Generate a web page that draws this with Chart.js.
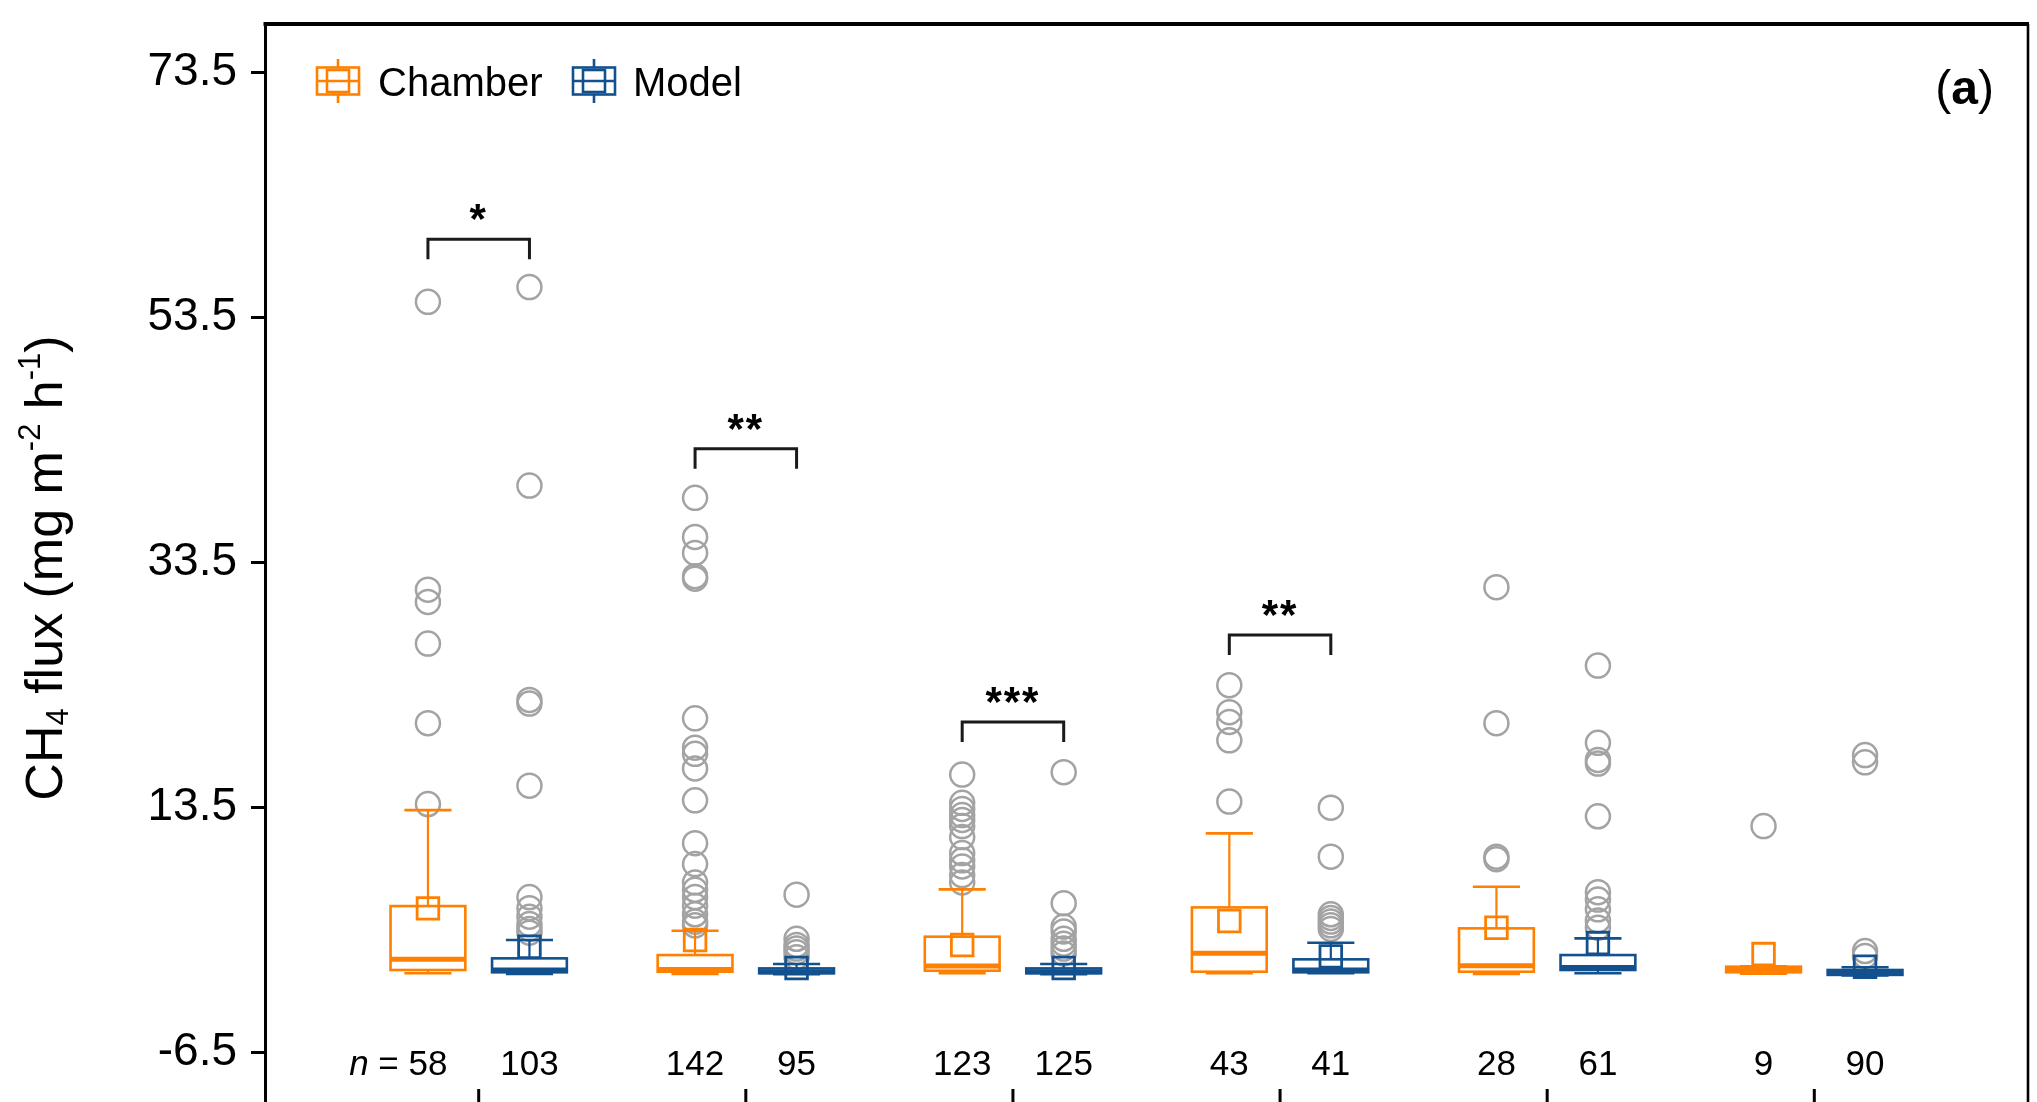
<!DOCTYPE html>
<html>
<head>
<meta charset="utf-8">
<script src="https://cdn.jsdelivr.net/npm/chart.js@4.4.1/dist/chart.umd.min.js"></script>
<style>
  html, body { margin: 0; padding: 0; background: #fff; overflow: hidden; }
</style>
</head>
<body>
<canvas id="chart" width="2037" height="1120"></canvas>
<script>
// Sites along the x axis (1..6), chamber vs. model flux per site
const sites = [1, 2, 3, 4, 5, 6];
const yTickValues = [-6.5, 13.5, 33.5, 53.5, 73.5];

const chamberN = [58, 142, 123, 43, 28, 9];
const modelN = [103, 95, 125, 41, 61, 90];

// box statistics (whisker low, Q1, median, Q3, whisker high, mean)
const chamberLow  = [-0.02, -0.08, -0.02, -0.02, -0.08, -0.05];
const chamberQ1   = [0.25, 0.11, 0.19, 0.11, 0.11, 0.06];
const chamberMed  = [1.12, 0.30, 0.57, 1.61, 0.60, 0.30];
const chamberQ3   = [5.47, 1.47, 2.97, 5.36, 3.65, 0.52];
const chamberHigh = [13.3, 3.46, 6.83, 11.4, 7.05, 0.55];
const chamberMean = [5.28, 2.70, 2.29, 4.25, 3.70, 1.55];

const modelLow  = [-0.08, -0.10, -0.10, -0.02, -0.02, -0.20];
const modelQ1   = [0.06, -0.02, -0.02, 0.06, 0.25, -0.15];
const modelMed  = [0.25, 0.10, 0.10, 0.25, 0.45, 0.05];
const modelQ3   = [1.20, 0.38, 0.38, 1.12, 1.47, 0.25];
const modelHigh = [2.70, 0.74, 0.74, 2.48, 2.83, 0.47];
const modelMean = [2.15, 0.41, 0.41, 1.36, 2.45, 0.52];

const chamberOutliers = [
  [54.8, 31.3, 30.3, 26.9, 20.4, 13.8],
  [38.8, 35.6, 34.3, 32.4, 32.2, 20.8, 18.4, 17.9, 16.7, 14.1, 10.6, 8.9, 7.4, 6.8, 6.2, 5.5, 4.8, 4.2, 3.9],
  [16.2, 13.9, 13.4, 12.9, 12.5, 12.0, 11.1, 9.8, 9.2, 8.7, 8.0, 7.4],
  [23.5, 21.3, 20.5, 19.0, 14.0],
  [31.5, 20.4, 9.5, 9.3],
  [12.0]
];
const modelOutliers = [
  [56.0, 39.8, 22.3, 22.0, 15.3, 6.2, 5.3, 4.6, 4.0, 3.6, 3.3],
  [6.4, 2.8, 2.3, 2.0, 1.7, 1.3],
  [16.4, 5.7, 3.8, 3.4, 2.8, 2.4, 2.0, 1.6],
  [13.5, 9.5, 4.8, 4.5, 4.2, 3.9, 3.6],
  [25.1, 18.8, 17.4, 17.1, 12.8, 6.6, 6.0, 5.2, 4.3, 3.7],
  [17.8, 17.2, 1.8, 1.4]
];

// significance brackets
const bracketSites = [1, 2, 3, 4];
const bracketLevel = [59.9, 42.8, 20.5, 27.6];
const bracketMarks = ['*', '**', '***', '**'];

const CHAMBER = '#ff8000';
const MODEL = '#12508e';
const OUTLIER = '#a3a3a3';
const FONT = "'Liberation Sans', Arial, Helvetica, sans-serif";
const pairOffset = 0.19;
const boxWidth = 0.28;

Chart.defaults.font.family = FONT;
Chart.defaults.color = '#000';

function stats(low, q1, med, q3, high) {
  return sites.map((s, i) => ({ low: low[i], q1: q1[i], med: med[i], q3: q3[i], high: high[i] }));
}
const chamberBoxes = stats(chamberLow, chamberQ1, chamberMed, chamberQ3, chamberHigh);
const modelBoxes = stats(modelLow, modelQ1, modelMed, modelQ3, modelHigh);

const outlierPoints = [];
sites.forEach((s, i) => {
  chamberOutliers[i].forEach(v => outlierPoints.push({ x: s - pairOffset, y: v }));
  modelOutliers[i].forEach(v => outlierPoints.push({ x: s + pairOffset, y: v }));
});

function drawBoxes(ctx, x, y, boxes, offset, color) {
  ctx.save();
  ctx.strokeStyle = color;
  boxes.forEach((b, i) => {
    const pos = sites[i] + offset;
    const cx = x.getPixelForValue(pos);
    const half = (x.getPixelForValue(pos + boxWidth / 2) - x.getPixelForValue(pos - boxWidth / 2)) / 2;
    const capHalf = half * 0.63;
    const yLow = y.getPixelForValue(b.low);
    const yQ1 = y.getPixelForValue(b.q1);
    const yMed = y.getPixelForValue(b.med);
    const yQ3 = y.getPixelForValue(b.q3);
    const yHigh = y.getPixelForValue(b.high);

    // whiskers
    ctx.lineWidth = 2.2;
    ctx.beginPath();
    ctx.moveTo(cx, yQ3); ctx.lineTo(cx, yHigh);
    ctx.moveTo(cx, yQ1); ctx.lineTo(cx, yLow);
    ctx.stroke();
    ctx.lineWidth = 2.6;
    ctx.beginPath();
    ctx.moveTo(cx - capHalf, yHigh); ctx.lineTo(cx + capHalf, yHigh);
    ctx.moveTo(cx - capHalf, yLow); ctx.lineTo(cx + capHalf, yLow);
    ctx.stroke();

    // box
    ctx.lineWidth = 2.6;
    ctx.strokeRect(cx - half, yQ3, 2 * half, yQ1 - yQ3);

    // median
    ctx.lineWidth = 5;
    ctx.beginPath();
    ctx.moveTo(cx - half, yMed); ctx.lineTo(cx + half, yMed);
    ctx.stroke();
  });
  ctx.restore();
}

function legendIcon(ctx, cx, cy, color) {
  ctx.save();
  ctx.strokeStyle = color;
  ctx.lineWidth = 2.6;
  ctx.strokeRect(cx - 21, cy - 13.5, 42, 27);
  ctx.strokeRect(cx - 11, cy - 11, 22, 22);
  ctx.beginPath();
  ctx.moveTo(cx - 21, cy); ctx.lineTo(cx + 21, cy);
  ctx.moveTo(cx, cy - 22); ctx.lineTo(cx, cy - 13.5);
  ctx.moveTo(cx, cy + 13.5); ctx.lineTo(cx, cy + 22);
  ctx.stroke();
  ctx.restore();
}

const decorPlugin = {
  id: 'decor',
  beforeDatasetDraw(chart, args) {
    // boxes go between the outlier circles and the mean squares
    if (args.index !== 1) return;
    const { ctx, scales: { x, y } } = chart;
    drawBoxes(ctx, x, y, chamberBoxes, -pairOffset, CHAMBER);
    drawBoxes(ctx, x, y, modelBoxes, pairOffset, MODEL);
  },
  afterDraw(chart) {
    const { ctx, chartArea: area, scales: { x, y } } = chart;
    ctx.save();

    // top and right frame
    ctx.strokeStyle = '#000';
    ctx.lineWidth = 4;
    ctx.beginPath();
    ctx.moveTo(area.left - 1.5, area.top); ctx.lineTo(area.right + 1, area.top);
    ctx.stroke();
    ctx.lineWidth = 2.6;
    ctx.beginPath();
    ctx.moveTo(area.right, area.top); ctx.lineTo(area.right, area.bottom);
    ctx.stroke();

    // inward x ticks at each site
    ctx.lineWidth = 3;
    ctx.beginPath();
    sites.forEach(s => {
      const px = x.getPixelForValue(s);
      ctx.moveTo(px, area.bottom); ctx.lineTo(px, area.bottom - 15);
    });
    ctx.stroke();

    // significance brackets
    ctx.strokeStyle = '#1a1a1a';
    ctx.fillStyle = '#000';
    ctx.lineWidth = 3;
    ctx.textAlign = 'center';
    ctx.textBaseline = 'alphabetic';
    bracketSites.forEach((s, i) => {
      const x1 = x.getPixelForValue(s - pairOffset);
      const x2 = x.getPixelForValue(s + pairOffset);
      const yb = y.getPixelForValue(bracketLevel[i]);
      ctx.beginPath();
      ctx.moveTo(x1, yb + 20); ctx.lineTo(x1, yb); ctx.lineTo(x2, yb); ctx.lineTo(x2, yb + 20);
      ctx.stroke();
      ctx.font = 'bold 42px ' + FONT;
      ctx.letterSpacing = '2px';
      ctx.fillText(bracketMarks[i], (x1 + x2) / 2, yb - 6);
      ctx.letterSpacing = '0px';
    });

    // sample sizes
    const nBase = 1075;
    ctx.font = '35px ' + FONT;
    ctx.textAlign = 'center';
    sites.forEach((s, i) => {
      const cxC = x.getPixelForValue(s - pairOffset);
      const cxM = x.getPixelForValue(s + pairOffset);
      const txt = String(chamberN[i]);
      ctx.fillText(txt, cxC, nBase);
      ctx.fillText(String(modelN[i]), cxM, nBase);
      if (i === 0) {
        const left = cxC - ctx.measureText(txt).width / 2;
        ctx.textAlign = 'right';
        ctx.fillText('= ', left, nBase);
        const eqW = ctx.measureText('= ').width;
        ctx.font = 'italic 35px ' + FONT;
        ctx.fillText('n ', left - eqW, nBase);
        ctx.font = '35px ' + FONT;
        ctx.textAlign = 'center';
      }
    });

    // legend
    ctx.font = '40px ' + FONT;
    ctx.textAlign = 'left';
    legendIcon(ctx, area.left + 73, 81, CHAMBER);
    ctx.fillText('Chamber', area.left + 113, 96);
    legendIcon(ctx, area.left + 329, 81, MODEL);
    ctx.fillText('Model', area.left + 368, 96);

    // panel letter
    const parts = [['(', '48px '], ['a', 'bold 48px '], [')', '48px ']];
    let px = area.right - 34;
    for (let k = parts.length - 1; k >= 0; k--) {
      ctx.font = parts[k][1] + FONT;
      px -= ctx.measureText(parts[k][0]).width;
    }
    parts.forEach(p => {
      ctx.font = p[1] + FONT;
      ctx.fillText(p[0], px, 104);
      px += ctx.measureText(p[0]).width;
    });

    // y axis title with sub/superscripts
    const size = 52;
    const title = [
      { t: 'CH' }, { t: '4', sub: true }, { t: ' flux (mg m' }, { t: '-2', sup: true },
      { t: ' h' }, { t: '-1', sup: true }, { t: ')' }
    ];
    const fontFor = p => ((p.sub || p.sup) ? Math.round(size * 0.6) : size) + 'px ' + FONT;
    let total = 0;
    title.forEach(p => { ctx.font = fontFor(p); total += ctx.measureText(p.t).width; });
    ctx.translate(62, (area.top + area.bottom) / 2 + 4);
    ctx.rotate(-Math.PI / 2);
    let tx = -total / 2;
    title.forEach(p => {
      ctx.font = fontFor(p);
      const dy = p.sub ? size * 0.12 : (p.sup ? -size * 0.42 : 0);
      ctx.fillText(p.t, tx, dy);
      tx += ctx.measureText(p.t).width;
    });
    ctx.restore();
  }
};

new Chart(document.getElementById('chart').getContext('2d'), {
  type: 'scatter',
  data: {
    datasets: [
      {
        label: 'Outliers',
        data: outlierPoints,
        pointStyle: 'circle',
        pointRadius: 12,
        borderWidth: 2.5,
        borderColor: OUTLIER,
        backgroundColor: 'rgba(0,0,0,0)',
        order: 1
      },
      {
        label: 'Chamber mean',
        data: sites.map((s, i) => ({ x: s - pairOffset, y: chamberMean[i] })),
        pointStyle: 'rect',
        pointRadius: 15.3,
        borderWidth: 2.8,
        borderColor: CHAMBER,
        backgroundColor: 'rgba(0,0,0,0)',
        order: 0
      },
      {
        label: 'Model mean',
        data: sites.map((s, i) => ({ x: s + pairOffset, y: modelMean[i] })),
        pointStyle: 'rect',
        pointRadius: 15.3,
        borderWidth: 2.8,
        borderColor: MODEL,
        backgroundColor: 'rgba(0,0,0,0)',
        order: 0
      }
    ]
  },
  options: {
    responsive: false,
    animation: false,
    events: [],
    layout: { autoPadding: false, padding: { left: 0, top: 24, right: 9, bottom: 0 } },
    plugins: {
      legend: { display: false },
      tooltip: { enabled: false }
    },
    scales: {
      x: {
        type: 'linear',
        min: 0.2,
        max: 6.8,
        ticks: { display: false },
        grid: { display: false },
        border: { display: true, color: '#000', width: 3 },
        afterFit(scale) {
          scale.height = 16;
          scale.paddingLeft = 0;
          scale.paddingRight = 0;
        }
      },
      y: {
        type: 'linear',
        min: -10.69,
        max: 77.48,
        afterBuildTicks(scale) { scale.ticks = yTickValues.map(v => ({ value: v })); },
        ticks: {
          font: { size: 46 },
          color: '#000',
          padding: 14,
          callback: v => v.toFixed(1)
        },
        grid: { drawOnChartArea: false, tickLength: 14, tickWidth: 3, color: '#000' },
        border: { display: true, color: '#000', width: 3 },
        afterFit(scale) {
          scale.width = 265;
          scale.paddingTop = 0;
          scale.paddingBottom = 0;
        }
      }
    }
  },
  plugins: [decorPlugin]
});
</script>
</body>
</html>
